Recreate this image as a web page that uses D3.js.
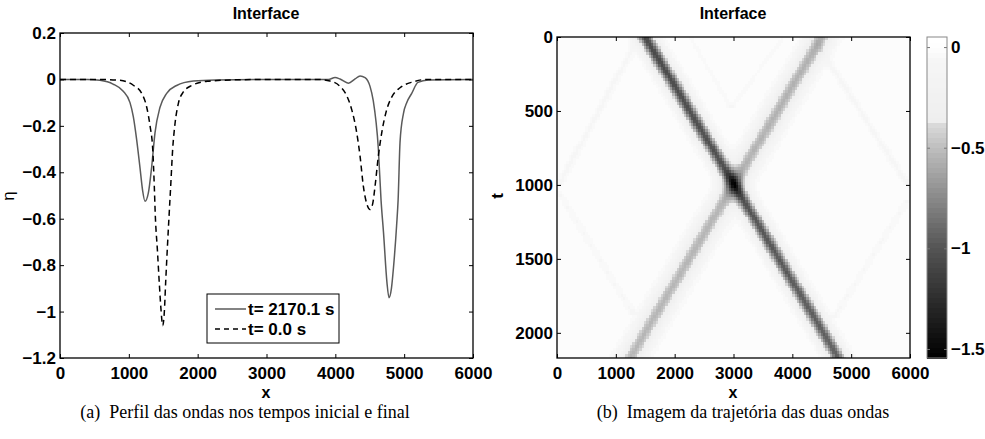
<!DOCTYPE html>
<html>
<head>
<meta charset="utf-8">
<script src="https://cdn.jsdelivr.net/npm/d3@7"></script>
<style>
body { margin: 0; background: #fff; }
svg text { font-family: "Liberation Sans", Arial, sans-serif; font-weight: bold; font-size: 16px; fill: #000; }
svg text.cap { font-family: "Liberation Serif", "Times New Roman", serif; font-weight: normal; font-size: 18px; white-space: pre; }
svg text.lt { font-size: 17px; }
</style>
</head>
<body>
<script>
var width = 985;
var height = 439;

// (a) perfil no tempo final, t = 2170.1 s (linha cheia)
var finalX   = [0, 400, 581, 770, 915, 1017, 1065, 1114, 1162, 1201, 1235, 1283, 1332, 1380, 1453, 1550, 1695, 1937, 2260, 3000, 3700,
                3900, 3996, 4068, 4190, 4287, 4359, 4432, 4504, 4550, 4625, 4664, 4700, 4750, 4780, 4815, 4845, 4890, 4912, 4940, 4990,
                5037, 5110, 5200, 5350, 6000];
var finalEta = [0, 0, -0.004, -0.02, -0.05, -0.1, -0.16, -0.26, -0.38, -0.48, -0.525, -0.49, -0.376, -0.23, -0.12, -0.06, -0.026, -0.007, -0.002, 0, 0,
                0, 0.008, 0.002, -0.016, 0.002, 0.015, 0.008, -0.03, -0.09, -0.3, -0.52, -0.66, -0.875, -0.94, -0.9, -0.81, -0.63, -0.52, -0.27, -0.146,
                -0.1, -0.06, -0.013, -0.002, 0];

// perfil inicial, t = 0.0 s (tracejado)
var initX   = [0, 600, 872, 1065, 1187, 1260, 1308, 1347, 1370, 1385, 1414, 1443, 1467, 1492, 1516, 1535, 1559, 1584, 1608, 1637, 1671,
               1719, 1792, 1913, 2140, 2527, 3000, 3729, 3923, 4068, 4165, 4238, 4311, 4359, 4407, 4456, 4504, 4543, 4577, 4625, 4674,
               4747, 4819, 4940, 5134, 5328, 6000];
var initEta = [0, 0, -0.004, -0.025, -0.06, -0.12, -0.2, -0.3, -0.46, -0.59, -0.73, -0.88, -0.99, -1.06, -1.0, -0.875, -0.73, -0.59, -0.46, -0.3, -0.19,
               -0.104, -0.054, -0.026, -0.008, -0.002, 0, 0, -0.007, -0.03, -0.07, -0.13, -0.23, -0.33, -0.46, -0.535, -0.56, -0.535, -0.46, -0.33, -0.23,
               -0.13, -0.076, -0.036, -0.01, 0, 0];

var legendLabels = ["t= 2170.1 s", "t= 0.0 s"];

var xTicks = [0, 1000, 2000, 3000, 4000, 5000, 6000];
var etaTicks = [0.2, 0, -0.2, -0.4, -0.6, -0.8, -1, -1.2];
var tTicks = [0, 500, 1000, 1500, 2000];
var cbTicks = [0, -0.5, -1, -1.5];
var tEnd = 2170.1;

// (b) trajetorias das duas ondas: instantes, centro, amplitude, largura
var waveT     = [[0, 2170.1], [0, 2170.1]];
var waveXc    = [[1500, 4785], [4500, 1240]];
var waveAmp   = [[-1.07, -0.94], [-0.56, -0.53]];
var waveWidth = [128, 170];

// ondas fracas (reflexos quase brancos)
var faintX0  = [1390, 30, 4350, 5960, 2260, 3840];
var faintT0  = [0, 1050, 0, 1100, 0, 0];
var faintX1  = [30, 1290, 5960, 4700, 2960, 2960];
var faintT1  = [1000, 1870, 1000, 1900, 480, 480];
var faintAmp = [-0.06, -0.05, -0.06, -0.05, -0.03, -0.03];

var cmapVal  = [0.05, 0, -0.06, -0.37, -0.38, -0.5, -1.0, -1.545];
var cmapGray = [255, 254, 246, 238, 218, 190, 84, 0];
var cMin = -1.545, cMax = 0.05, nLevels = 64;

var svg = d3.select("body")
            .append("svg")
            .attr("width", width)
            .attr("height", height);

var grayScale = d3.scaleLinear().domain(cmapVal).range(cmapGray).clamp(true);

function levelOf(v) {
  var k = Math.floor((v - cMin) / (cMax - cMin) * nLevels);
  return Math.max(0, Math.min(nLevels - 1, k));
}
function levelColor(k) {
  var v = cMin + (k + 0.5) * (cMax - cMin) / nLevels;
  var g = Math.round(grayScale(v));
  return d3.rgb(g, g, g).toString();
}
function sech2(u) {
  var c = Math.cosh(u);
  return 1 / (c * c);
}

var fmt = d3.format("~g");

// ---------- (a) ----------
var ax = d3.scaleLinear().domain([0, 6000]).range([60, 473]);
var ay = d3.scaleLinear().domain([0.2, -1.2]).range([33, 358]);

var gA = svg.append("g");

gA.append("g")
  .attr("transform", "translate(0,358)")
  .call(d3.axisBottom(ax).tickValues(xTicks).tickFormat(fmt).tickSizeInner(-4).tickSizeOuter(0).tickPadding(9));
gA.append("g")
  .attr("transform", "translate(0,33)")
  .call(d3.axisTop(ax).tickValues(xTicks).tickFormat("").tickSizeInner(-4).tickSizeOuter(0));
gA.append("g")
  .attr("transform", "translate(60,0)")
  .call(d3.axisLeft(ay).tickValues(etaTicks).tickFormat(fmt).tickSizeInner(-4).tickSizeOuter(0).tickPadding(4));
gA.append("g")
  .attr("transform", "translate(473,0)")
  .call(d3.axisRight(ay).tickValues(etaTicks).tickFormat("").tickSizeInner(-4).tickSizeOuter(0));

var line = d3.line()
  .x(function(d) { return ax(d[0]); })
  .y(function(d) { return ay(d[1]); })
  .curve(d3.curveMonotoneX);

gA.append("path")
  .datum(d3.zip(finalX, finalEta))
  .attr("d", line)
  .attr("fill", "none")
  .attr("stroke", "#5a5a5a")
  .attr("stroke-width", 1.5);

gA.append("path")
  .datum(d3.zip(initX, initEta))
  .attr("d", line)
  .attr("fill", "none")
  .attr("stroke", "#000")
  .attr("stroke-width", 1.5)
  .attr("stroke-dasharray", "6,4");

gA.append("rect")
  .attr("x", 60).attr("y", 33).attr("width", 413).attr("height", 325)
  .attr("fill", "none").attr("stroke", "#000").attr("stroke-width", 1.3);

// legenda
var lg = gA.append("g");
lg.append("rect")
  .attr("x", 207).attr("y", 294).attr("width", 132).attr("height", 49)
  .attr("fill", "#fff").attr("stroke", "#000").attr("stroke-width", 1);
lg.append("line").attr("x1", 215).attr("x2", 246).attr("y1", 309).attr("y2", 309)
  .attr("stroke", "#5a5a5a").attr("stroke-width", 1.5);
lg.append("line").attr("x1", 215).attr("x2", 246).attr("y1", 329).attr("y2", 329)
  .attr("stroke", "#000").attr("stroke-width", 1.5).attr("stroke-dasharray", "5,4");
lg.selectAll("text.lt")
  .data(legendLabels)
  .enter().append("text")
  .attr("class", "lt")
  .attr("x", 248)
  .attr("y", function(d, i) { return 315 + i * 20; })
  .text(function(d) { return d; });

gA.append("text").attr("x", 266).attr("y", 19).attr("text-anchor", "middle").text("Interface");
gA.append("text").attr("x", 266).attr("y", 398).attr("text-anchor", "middle").text("x");
gA.append("text").attr("transform", "translate(14,196) rotate(-90)").attr("text-anchor", "middle")
  .style("font-weight", "normal").style("font-size", "17px").text("η");

// ---------- (b) ----------
var bx = d3.scaleLinear().domain([0, 6000]).range([557, 910]);
var by = d3.scaleLinear().domain([0, tEnd]).range([37, 358]);

var gB = svg.append("g");

var xSc = waveXc.map(function(xc, i) { return d3.scaleLinear().domain(waveT[i]).range(xc); });
var aSc = waveAmp.map(function(a, i) { return d3.scaleLinear().domain(waveT[i]).range(a); });

var dx = 40, dt = 20;
var cells = [];
d3.range(0, tEnd, dt).forEach(function(t0) {
  var t1 = Math.min(t0 + dt, tEnd);
  var tc = (t0 + t1) / 2;
  d3.range(0, 6000, dx).forEach(function(x0) {
    var xc = x0 + dx / 2;
    var v = 0;
    for (var i = 0; i < waveWidth.length; i++) {
      v += aSc[i](tc) * sech2((xc - xSc[i](tc)) / waveWidth[i]);
    }
    for (var j = 0; j < faintAmp.length; j++) {
      if (tc >= faintT0[j] && tc <= faintT1[j]) {
        var fx = faintX0[j] + (faintX1[j] - faintX0[j]) * (tc - faintT0[j]) / (faintT1[j] - faintT0[j]);
        v += faintAmp[j] * sech2((xc - fx) / 70);
      }
    }
    cells.push({ x0: x0, t0: t0, t1: t1, k: levelOf(v) });
  });
});

gB.append("rect")
  .attr("x", bx(0)).attr("y", by(0)).attr("width", bx(6000) - bx(0)).attr("height", by(tEnd) - by(0))
  .attr("fill", levelColor(levelOf(0)));

gB.append("g")
  .attr("shape-rendering", "crispEdges")
  .selectAll("rect")
  .data(cells.filter(function(c) { return c.k !== levelOf(0); }))
  .enter().append("rect")
  .attr("x", function(c) { return bx(c.x0); })
  .attr("y", function(c) { return by(c.t0); })
  .attr("width", function(c) { return bx(c.x0 + dx) - bx(c.x0) + 0.4; })
  .attr("height", function(c) { return by(c.t1) - by(c.t0) + 0.4; })
  .attr("fill", function(c) { return levelColor(c.k); });

gB.append("g")
  .attr("transform", "translate(0,358)")
  .call(d3.axisBottom(bx).tickValues(xTicks).tickFormat(fmt).tickSizeInner(-4).tickSizeOuter(0).tickPadding(9));
gB.append("g")
  .attr("transform", "translate(0,37)")
  .call(d3.axisTop(bx).tickValues(xTicks).tickFormat("").tickSizeInner(-4).tickSizeOuter(0));
gB.append("g")
  .attr("transform", "translate(557,0)")
  .call(d3.axisLeft(by).tickValues(tTicks).tickFormat(fmt).tickSizeInner(-4).tickSizeOuter(0).tickPadding(4));
gB.append("g")
  .attr("transform", "translate(910,0)")
  .call(d3.axisRight(by).tickValues(tTicks).tickFormat("").tickSizeInner(-4).tickSizeOuter(0));

gB.append("rect")
  .attr("x", 557).attr("y", 37).attr("width", 353).attr("height", 321)
  .attr("fill", "none").attr("stroke", "#000").attr("stroke-width", 1.3);

gB.append("text").attr("x", 733).attr("y", 19).attr("text-anchor", "middle").text("Interface");
gB.append("text").attr("x", 733).attr("y", 398).attr("text-anchor", "middle").text("x");
gB.append("text").attr("transform", "translate(503,196) rotate(-90)").attr("text-anchor", "middle").style("font-size", "17px").text("t");

// barra de cores
var cy = d3.scaleLinear().domain([cMax, cMin]).range([37, 358]);
var cb = gB.append("g");
cb.append("g")
  .attr("shape-rendering", "crispEdges")
  .selectAll("rect")
  .data(d3.range(nLevels))
  .enter().append("rect")
  .attr("x", 927)
  .attr("width", 20)
  .attr("y", function(k) { return cy(cMin + (k + 1) * (cMax - cMin) / nLevels); })
  .attr("height", function(k) { return cy(cMin + k * (cMax - cMin) / nLevels) - cy(cMin + (k + 1) * (cMax - cMin) / nLevels) + 0.5; })
  .attr("fill", levelColor);
cb.append("g")
  .attr("transform", "translate(947,0)")
  .call(d3.axisRight(cy).tickValues(cbTicks).tickFormat(fmt).tickSizeInner(-3).tickSizeOuter(0).tickPadding(4))
  .selectAll("line").attr("stroke", "#777");
cb.append("g")
  .attr("transform", "translate(927,0)")
  .call(d3.axisLeft(cy).tickValues(cbTicks).tickFormat("").tickSizeInner(-3).tickSizeOuter(0))
  .selectAll("line").attr("stroke", "#777");
cb.append("rect")
  .attr("x", 927).attr("y", 37).attr("width", 20).attr("height", 321)
  .attr("fill", "none").attr("stroke", "#888").attr("stroke-width", 1);

// estilos comuns dos eixos
svg.selectAll(".domain").remove();
svg.selectAll(".tick text")
  .style("font-family", "'Liberation Sans', Arial, sans-serif")
  .style("font-weight", "bold")
  .style("font-size", "17px")
  .attr("fill", "#000");

// legendas das figuras
svg.append("text").attr("class", "cap").attr("x", 245).attr("y", 418).attr("text-anchor", "middle")
  .text("(a)  Perfil das ondas nos tempos inicial e final");
svg.append("text").attr("class", "cap").attr("x", 743).attr("y", 418).attr("text-anchor", "middle")
  .text("(b)  Imagem da trajetória das duas ondas");
</script>
</body>
</html>
